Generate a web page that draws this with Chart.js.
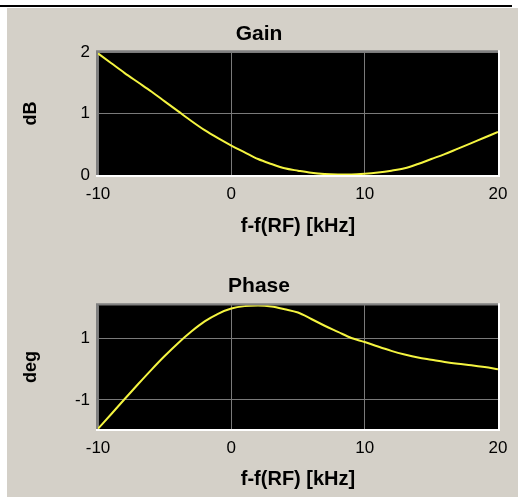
<!DOCTYPE html>
<html>
<head>
<meta charset="utf-8">
<script src="https://cdn.jsdelivr.net/npm/chart.js@4"></script>
<style>
  body { margin: 0; background: #fff; width: 522px; height: 497px; overflow: hidden; position: relative; }
  #topline { position: absolute; left: 0; top: 5px; width: 512px; height: 2px; background: #000; }
  #panel { position: absolute; left: 7px; top: 8px; width: 511px; height: 489px; background: #d4d0c8; }
  canvas { position: absolute; }
  #gainBox { position: absolute; left: 20px; top: 8px; width: 502px; height: 242px; }
  #phaseBox { position: absolute; left: 20px; top: 250px; width: 502px; height: 247px; }
</style>
</head>
<body>
<div id="topline"></div>
<div id="panel"></div>
<div id="gainBox"><canvas id="gainChart"></canvas></div>
<div id="phaseBox"><canvas id="phaseChart"></canvas></div>
<script>
var freqs = [-10, -9, -8, -7, -6, -5, -4, -3, -2, -1, 0, 1, 2, 3, 4, 5, 6, 7, 8, 9, 10,
             11, 12, 13, 14, 15, 16, 17, 18, 19, 20];
var gainValues = [1.98, 1.82, 1.66, 1.51, 1.36, 1.20, 1.04, 0.88, 0.73, 0.60, 0.48,
                  0.37, 0.26, 0.18, 0.11, 0.07, 0.035, 0.015, 0.01, 0.01, 0.02,
                  0.04, 0.07, 0.11, 0.18, 0.26, 0.34, 0.43, 0.52, 0.61, 0.70];
var phaseValues = [-1.94, -1.46, -0.97, -0.49, -0.02, 0.43, 0.85, 1.23, 1.56, 1.81, 1.98,
                   2.06, 2.08, 2.05, 1.96, 1.85, 1.64, 1.42, 1.22, 1.02, 0.89,
                   0.74, 0.60, 0.48, 0.38, 0.31, 0.24, 0.18, 0.13, 0.07, 0.0];
var xTicks = [-10, 0, 10, 20];
var gainTicks = [0, 1, 2];
var phaseTicks = [-1, 1];

var plotFrame = {
    id: 'plotFrame',
    beforeDraw: function( chart ){
        var a = chart.chartArea, ctx = chart.ctx;
        ctx.save();
        ctx.fillStyle = '#000';
        ctx.fillRect( a.left, a.top, a.right - a.left, a.bottom - a.top );
        ctx.restore();
    },
    afterDraw: function( chart ){
        var a = chart.chartArea, ctx = chart.ctx;
        ctx.save();
        ctx.lineWidth = 2;
        ctx.strokeStyle = '#808080';
        ctx.beginPath();
        ctx.moveTo( a.left - 1, a.bottom );
        ctx.lineTo( a.left - 1, a.top - 1 );
        ctx.lineTo( a.right, a.top - 1 );
        ctx.stroke();
        ctx.strokeStyle = '#ffffff';
        ctx.beginPath();
        ctx.moveTo( a.left - 2, a.bottom + 1 );
        ctx.lineTo( a.right + 1, a.bottom + 1 );
        ctx.lineTo( a.right + 1, a.top - 2 );
        ctx.stroke();
        ctx.restore();
    }
};

function makeChart( id, title, yTitle, values, yMin, yMax, yTicks, sizes ){
    var ctx = document.getElementById( id ).getContext( '2d' );
    return new Chart( ctx, {
        type: 'line',
        data: {
            datasets: [{
                data: freqs.map( function( f, i ){ return { x: f, y: values[i] }; } ),
                borderColor: '#f4f440',
                borderWidth: 2,
                pointRadius: 0,
                cubicInterpolationMode: 'monotone',
                fill: false
            }]
        },
        options: {
            responsive: true,
            maintainAspectRatio: false,
            animation: false,
            layout: { padding: { left: 0, right: 24, top: 0, bottom: 0 } },
            plugins: {
                legend: { display: false },
                tooltip: { enabled: false },
                title: {
                    display: true,
                    text: title,
                    color: '#000',
                    font: { family: 'Liberation Sans', size: 21, weight: 'bold' },
                    padding: { top: sizes.titleTop, bottom: sizes.titleBottom }
                }
            },
            scales: {
                x: {
                    type: 'linear',
                    min: -10,
                    max: 20,
                    afterBuildTicks: function( s ){ s.ticks = xTicks.map( function( v ){ return { value: v }; } ); },
                    afterFit: function( s ){ s.height = sizes.xHeight; },
                    grid: { color: '#7a7a7a', lineWidth: 1, drawTicks: false },
                    border: { display: false },
                    ticks: { color: '#000', padding: 9, maxRotation: 0,
                             font: { family: 'Liberation Sans', size: 17 } },
                    title: {
                        display: true,
                        text: 'f-f(RF) [kHz]',
                        color: '#000',
                        font: { family: 'Liberation Sans', size: 20, weight: 'bold' },
                        padding: { top: 0, bottom: sizes.xTitleBottom }
                    }
                },
                y: {
                    min: yMin,
                    max: yMax,
                    afterBuildTicks: function( s ){ s.ticks = yTicks.map( function( v ){ return { value: v }; } ); },
                    afterFit: function( s ){ s.width = 78; },
                    grid: { color: '#7a7a7a', lineWidth: 1, drawTicks: false },
                    border: { display: false },
                    ticks: { color: '#000', padding: 8,
                             font: { family: 'Liberation Sans', size: 17 } },
                    title: {
                        display: true,
                        text: yTitle,
                        color: '#000',
                        font: { family: 'Liberation Sans', size: 18, weight: 'bold' },
                        padding: { top: 0, bottom: 0 }
                    }
                }
            }
        },
        plugins: [ plotFrame ]
    });
}

makeChart( 'gainChart', 'Gain', 'dB', gainValues, 0, 2, gainTicks,
    { titleTop: 14, titleBottom: 5, xHeight: 75, xTitleBottom: 12 } );
makeChart( 'phaseChart', 'Phase', 'deg', phaseValues, -1.95, 2.09, phaseTicks,
    { titleTop: 24, titleBottom: 6, xHeight: 68, xTitleBottom: 6 } );
</script>
</body>
</html>
